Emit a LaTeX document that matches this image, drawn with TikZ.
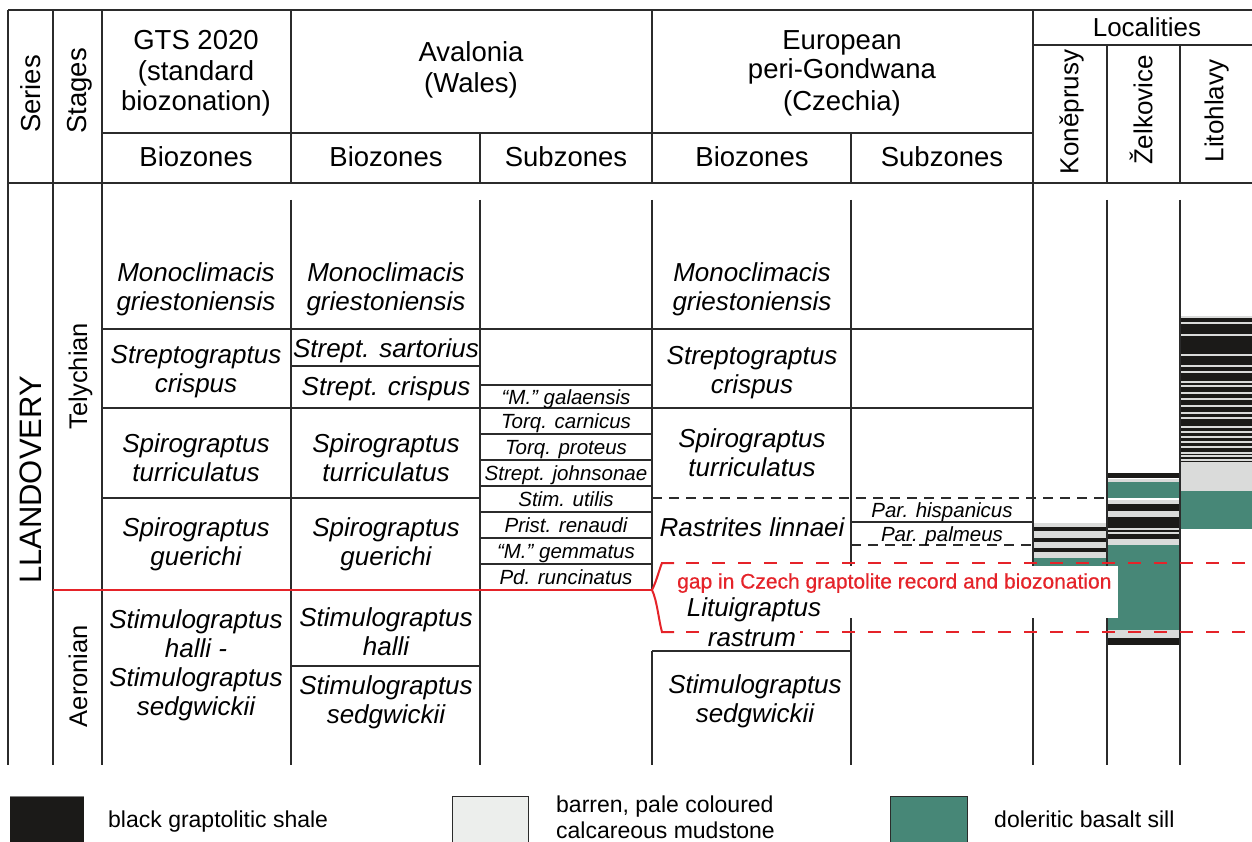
\documentclass[tikz,border=0pt]{standalone}
\usepackage{fontspec}
\setmainfont{Liberation Sans}
\newfontfamily\gapfont{Liberation Sans}[FakeBold=0.5]
\definecolor{gl}{HTML}{2B2B2B}
\definecolor{shale}{HTML}{1B1A18}
\definecolor{sill}{HTML}{478777}
\definecolor{mud}{HTML}{DADBDA}
\definecolor{mudl}{HTML}{ECEEEC}
\definecolor{gapred}{HTML}{E52329}
\begin{document}
\begin{tikzpicture}[x=1pt,y=-1pt,
  grid/.style={line width=1.5pt, draw=gl},
  hd/.style={font=\fontsize{27.5}{30}\selectfont, inner sep=0pt, text height=19.7pt, text depth=0pt},
  loc/.style={font=\fontsize{26}{30}\selectfont, inner sep=0pt, text height=18.6pt, text depth=0pt},
  bz/.style={font=\fontsize{26}{29}\selectfont\itshape, inner sep=0pt, text height=18.6pt, text depth=0pt},
  sz/.style={font=\fontsize{20.5}{24}\selectfont\itshape, inner sep=0pt, text height=14.7pt, text depth=0pt},
  lg/.style={font=\fontsize{23}{27}\selectfont, inner sep=0pt, text height=16.5pt, text depth=0pt, anchor=west},
  gaplbl/.style={font=\gapfont\fontsize{21}{24}\selectfont, text=gapred, inner sep=0pt, text height=15pt, text depth=0pt, anchor=west},
  redl/.style={draw=gapred, line width=2pt},
  reddash/.style={draw=gapred, line width=2pt, dash pattern=on 13pt off 13pt},
  blkdash/.style={draw=gl, line width=1.5pt, dash pattern=on 10pt off 7pt},
  mudline/.style={draw=mud, line width=1.4pt}
]
\useasboundingbox (0,0) rectangle (1252,842);
\fill[white] (0,0) rectangle (1252,842);

% ---------- Litohlavy column fills
\fill[mud] (1180,316) rectangle (1252,318);
\fill[shale] (1180,318) rectangle (1252,464);
\foreach \yy in {323,335,355,366,372,382,386,393,399,406,413,418,427,432,437,442,447,453,456,460,463}
  \draw[mudline] (1180,\yy) -- (1252,\yy);
\fill[mud] (1180,464) rectangle (1252,491);
\fill[sill] (1180,491) rectangle (1252,529);

% ---------- Zelkovice column fills
\fill[shale] (1107,473) rectangle (1180,478);
\fill[mud] (1107,479) rectangle (1180,482);
\fill[sill] (1107,482) rectangle (1180,498);
\fill[mud] (1107,500) rectangle (1180,504);
\fill[shale] (1107,504) rectangle (1180,511);
\fill[mud] (1107,511) rectangle (1180,517);
\fill[shale] (1107,517) rectangle (1180,528);
\fill[mud] (1107,528) rectangle (1180,530);
\fill[shale] (1107,530) rectangle (1180,532);
\fill[mud] (1107,532) rectangle (1180,534);
\fill[shale] (1107,534) rectangle (1180,539);
\fill[mud] (1107,539) rectangle (1180,545);
\fill[sill] (1107,545) rectangle (1180,630);
\fill[mud] (1107,630) rectangle (1180,638);
\fill[shale] (1107,638) rectangle (1180,645);

% ---------- Koneprusy column fills
\fill[mud] (1033,523) rectangle (1107,527);
\fill[shale] (1033,527) rectangle (1107,531);
\fill[mud] (1033,531) rectangle (1107,538);
\fill[shale] (1033,538) rectangle (1107,542);
\fill[mud] (1033,542) rectangle (1107,548);
\fill[shale] (1033,548) rectangle (1107,552);
\fill[mud] (1033,552) rectangle (1107,558);
\fill[sill] (1033,558) rectangle (1107,618);

% ---------- header grid
\draw[grid] (8,10) -- (1252,10);
\draw[grid] (1033,45) -- (1252,45);
\draw[grid] (102,133) -- (1033,133);
\draw[grid] (8,183) -- (1252,183);
\draw[grid] (8,10) -- (8,765);
\draw[grid] (53,10) -- (53,765);
\draw[grid] (102,10) -- (102,765);
\draw[grid] (291,10) -- (291,183);
\draw[grid] (480,133) -- (480,183);
\draw[grid] (652,10) -- (652,183);
\draw[grid] (851,133) -- (851,183);
\draw[grid] (1033,10) -- (1033,765);
\draw[grid] (1107,45) -- (1107,183);
\draw[grid] (1180,45) -- (1180,183);

% ---------- body vertical lines
\draw[grid] (291,200) -- (291,765);
\draw[grid] (480,200) -- (480,765);
\draw[grid] (652,200) -- (652,590);
\draw[grid] (652,651) -- (652,765);
\draw[grid] (851,200) -- (851,765);
\draw[grid] (1107,200) -- (1107,765);
\draw[grid] (1180,200) -- (1180,765);

% ---------- body horizontal lines
\draw[grid] (102,329) -- (1033,329);
\draw[grid] (291,366) -- (480,366);
\draw[grid] (480,385) -- (652,385);
\draw[grid] (102,408) -- (1033,408);
\foreach \yy in {434,460,486,512,538,564}
  \draw[grid] (480,\yy) -- (652,\yy);
\draw[grid] (102,498) -- (480,498);
\draw[blkdash] (652,498) -- (1107,498);
\draw[grid] (851,522) -- (1033,522);
\draw[blkdash] (851,545) -- (1033,545);
\draw[grid] (652,651) -- (851,651);
\draw[grid] (291,666) -- (480,666);

% ---------- red boundary and gap
\draw[redl] (53,590) -- (652,590);
\draw[redl] (652,590) .. controls (657,580) and (659,570) .. (662,563) -- (674,563);
\draw[redl] (652,590) .. controls (657,600) and (659,622) .. (662,632) -- (674,632);
\draw[reddash] (686,563) -- (1252,563);
\draw[reddash] (686,632) -- (1252,632);
\fill[white] (663,566) rectangle (1118,618);
\node[gaplbl] (gap) at (677,581) {gap in Czech graptolite record and biozonation};

% ---------- header texts
\node[hd, rotate=90] (hSeries) at (31,94) {Series};
\node[hd, rotate=90] (hStages) at (77,91) {Stages};
\node[hd] (hG1) at (196,40) {GTS 2020};
\node[hd] (hG2) at (196,71) {(standard};
\node[hd] (hG3) at (196,101) {biozonation)};
\node[hd] (hA1) at (471,52) {Avalonia};
\node[hd] (hA2) at (471,83) {(Wales)};
\node[hd] (hE1) at (842,40) {European};
\node[hd] (hE2) at (842,69) {peri-Gondwana};
\node[hd] (hE3) at (842,101) {(Czechia)};
\node[hd] (hB1) at (196,157) {Biozones};
\node[hd] (hB2) at (386,157) {Biozones};
\node[hd] (hS1) at (566,157) {Subzones};
\node[hd] (hB3) at (752,157) {Biozones};
\node[hd] (hS2) at (942,157) {Subzones};
\node[loc] (hLoc) at (1147,27) {Localities};
\node[loc, rotate=90] (hKon) at (1069,112) {Koněprusy};
\node[loc, rotate=90] (hZel) at (1143,110) {Želkovice};
\node[loc, rotate=90] (hLit) at (1214,111) {Litohlavy};

% ---------- series / stages
\node[hd, font=\fontsize{31}{34}\selectfont, text height=22.2pt, rotate=90] (sLl) at (30,480) {LLANDOVERY};
\node[hd, font=\fontsize{25.5}{30}\selectfont, text height=18.3pt, rotate=90] (sTe) at (78,376) {Telychian};
\node[hd, font=\fontsize{25.5}{30}\selectfont, text height=18.3pt, rotate=90] (sAe) at (78,676) {Aeronian};

% ---------- GTS biozones
\node[bz] (g1a) at (196,272) {Monoclimacis};
\node[bz] (g1b) at (196,301) {griestoniensis};
\node[bz] (g2a) at (196,354) {Streptograptus};
\node[bz] (g2b) at (196,383) {crispus};
\node[bz] (g3a) at (196,443) {Spirograptus};
\node[bz] (g3b) at (196,472) {turriculatus};
\node[bz] (g4a) at (196,527) {Spirograptus};
\node[bz] (g4b) at (196,556) {guerichi};
\node[bz] (g5a) at (196,619) {Stimulograptus};
\node[bz] (g5b) at (196,648) {halli -};
\node[bz] (g5c) at (196,677) {Stimulograptus};
\node[bz] (g5d) at (196,706) {sedgwickii};

% ---------- Avalonia biozones
\node[bz] (a1a) at (386,272) {Monoclimacis};
\node[bz] (a1b) at (386,301) {griestoniensis};
\node[bz] (a2) at (386,348) {Strept. sartorius};
\node[bz] (a3) at (386,386) {Strept. crispus};
\node[bz] (a4a) at (386,443) {Spirograptus};
\node[bz] (a4b) at (386,472) {turriculatus};
\node[bz] (a5a) at (386,527) {Spirograptus};
\node[bz] (a5b) at (386,556) {guerichi};
\node[bz] (a6a) at (386,617) {Stimulograptus};
\node[bz] (a6b) at (386,646) {halli};
\node[bz] (a7a) at (386,685) {Stimulograptus};
\node[bz] (a7b) at (386,714) {sedgwickii};

% ---------- Avalonia subzones
\node[sz] (s1) at (566,397) {“M.” galaensis};
\node[sz] (s2) at (566,421) {Torq. carnicus};
\node[sz] (s3) at (566,447) {Torq. proteus};
\node[sz] (s4) at (566,473) {Strept. johnsonae};
\node[sz] (s5) at (566,499) {Stim. utilis};
\node[sz] (s6) at (566,525) {Prist. renaudi};
\node[sz] (s7) at (566,551) {“M.” gemmatus};
\node[sz] (s8) at (566,577) {Pd. runcinatus};

% ---------- Czech biozones
\node[bz] (c1a) at (752,272) {Monoclimacis};
\node[bz] (c1b) at (752,301) {griestoniensis};
\node[bz] (c2a) at (752,355) {Streptograptus};
\node[bz] (c2b) at (752,384) {crispus};
\node[bz] (c3a) at (752,438) {Spirograptus};
\node[bz] (c3b) at (752,467) {turriculatus};
\node[bz] (c4) at (752,527) {Rastrites linnaei};
\node[bz] (c5a) at (754,607) {Lituigraptus};
\node[bz, fill=white, inner xsep=4pt] (c5b) at (752,637) {rastrum};
\node[bz] (c6a) at (755,684) {Stimulograptus};
\node[bz] (c6b) at (755,713) {sedgwickii};

% ---------- Czech subzones
\node[sz] (cs1) at (942,510) {Par. hispanicus};
\node[sz] (cs2) at (942,534) {Par. palmeus};

% ---------- legend
\fill[shale] (10,796) rectangle (84,843);
\draw[gray, line width=1pt] (10,796.5) -- (84,796.5);
\filldraw[fill=mudl, draw=gl, line width=1pt] (452,796) rectangle (528,844);
\filldraw[fill=sill, draw=gl, line width=1pt] (890,796) rectangle (967,844);
\node[lg] (l1) at (108,819) {black graptolitic shale};
\node[lg] (l2a) at (556,804) {barren, pale coloured};
\node[lg] (l2b) at (556,830) {calcareous mudstone};
\node[lg] (l3) at (994,819) {doleritic basalt sill};
\end{tikzpicture}
\end{document}
